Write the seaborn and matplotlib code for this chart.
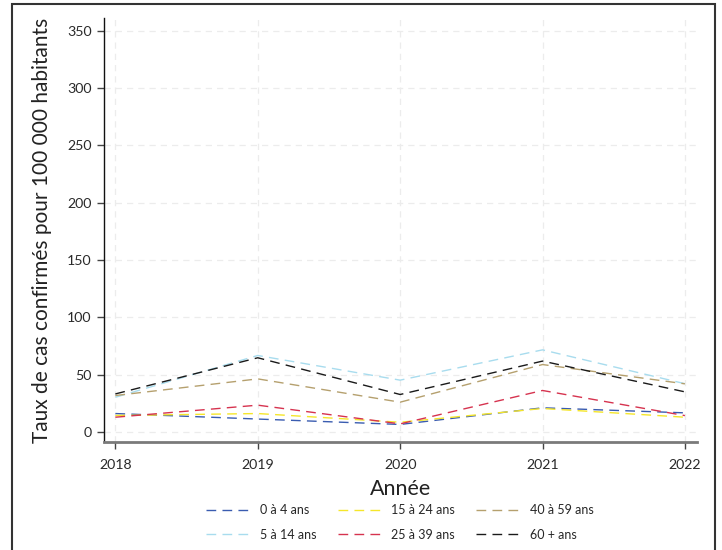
import matplotlib
matplotlib.use("Agg")
import matplotlib.pyplot as plt
import seaborn as sns
import pandas as pd
from matplotlib.patches import Rectangle

# Taux de cas confirmés pour 100 000 habitants, par groupe d'âge
annees = [2018, 2019, 2020, 2021, 2022]
groupes = ["0 à 4 ans", "5 à 14 ans", "15 à 24 ans", "25 à 39 ans", "40 à 59 ans", "60 + ans"]
taux_0_4 = [16.3, 11.5, 6.8, 21.3, 16.9]
taux_5_14 = [30.5, 66.9, 45.4, 71.8, 42.3]
taux_15_24 = [14.6, 16.3, 8.7, 20.7, 13.1]
taux_25_39 = [13.1, 23.6, 7.3, 36.4, 14.5]
taux_40_59 = [32.0, 46.5, 26.2, 59.0, 42.2]
taux_60_plus = [33.4, 64.9, 32.9, 62.0, 35.2]
couleurs = ["#3a5cb0", "#a8dcee", "#f5e62a", "#d6334f", "#b5a06e", "#1a1a1a"]

series = [taux_0_4, taux_5_14, taux_15_24, taux_25_39, taux_40_59, taux_60_plus]
df = pd.DataFrame(
    [(a, g, v) for g, vals in zip(groupes, series) for a, v in zip(annees, vals)],
    columns=["annee", "groupe", "taux"],
)

sns.set_theme(style="white")
plt.rcParams["font.family"] = ["Lato", "DejaVu Sans"]

fig = plt.figure(figsize=(7.22, 5.5), dpi=100)
ax = fig.add_axes([104 / 722, 1 - 442 / 550, 593 / 722, 424 / 550])

sns.lineplot(
    data=df, x="annee", y="taux", hue="groupe", style="groupe",
    hue_order=groupes, style_order=groupes,
    palette=dict(zip(groupes, couleurs)),
    dashes={g: (7, 4.5) for g in groupes},
    linewidth=1.0, ax=ax,
)

ax.set_xlim(2017.92, 2022.085)
ax.set_ylim(-8.5, 361)
ax.set_xticks(annees)
ax.set_yticks(range(0, 351, 50))
ax.grid(True, color="#ececec", linestyle=(0, (5, 4)), linewidth=0.9)
ax.set_axisbelow(True)

for s in ["top", "right"]:
    ax.spines[s].set_visible(False)
ax.spines["left"].set_color("#111111")
ax.spines["left"].set_linewidth(1.0)
ax.spines["bottom"].set_color("#7a7a7a")
ax.spines["bottom"].set_linewidth(2.0)

ax.tick_params(axis="both", which="both", direction="out", length=5,
               width=1.0, color="#444444", labelsize=10.2, labelcolor="#2a2a2a",
               left=True, bottom=True)
ax.tick_params(axis="y", pad=4)
ax.tick_params(axis="x", pad=7)

ax.set_xlabel("Année", fontsize=15.5, color="#222222", labelpad=6)
ax.set_ylabel("Taux de cas confirmés pour 100 000 habitants", fontsize=15,
              color="#222222", labelpad=11)

handles, labels = ax.get_legend_handles_labels()
ax.get_legend().remove()
fig.legend(handles, labels, loc="center", bbox_to_anchor=(400 / 722, 1 - 522.5 / 550),
           ncol=3, frameon=False, fontsize=9, handlelength=3.4,
           columnspacing=1.7, handletextpad=0.9, labelspacing=1.0)

# Cadre extérieur de la figure
fig.patches.append(Rectangle((12 / 722, -0.05), 703 / 722, 1.05 - 4 / 550,
                             transform=fig.transFigure, fill=False,
                             edgecolor="#333333", linewidth=1.5))

fig.savefig("out.png", dpi=100)
